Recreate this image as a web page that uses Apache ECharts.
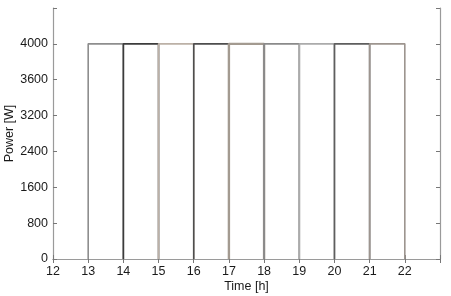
<!DOCTYPE html>
<html>
<head>
<meta charset="utf-8">
<script src="https://cdn.jsdelivr.net/npm/echarts@6/dist/echarts.min.js"></script>
<style>html,body{margin:0;padding:0;background:#fff;}#c{width:451px;height:296px;}</style>
</head>
<body>
<div id="c"></div>
<script>
// Data
var pulseStart = [13, 14, 15, 16, 17, 18, 19, 20, 21];
var pulseEnd   = [14, 15, 16, 17, 18, 19, 20, 21, 22];
var pulsePower = [4000, 4000, 4000, 4000, 4000, 4000, 4000, 4000, 4000];
var xTickLabels = ['12','13','14','15','16','17','18','19','20','21','22'];
var yTickLabels = ['0','800','1600','2400','3200','3600','4000'];
var pulseColors = ['#8e8e8e','#3c3c3c','#bcb1a7','#4e4e4e','#a39a90','#8a8a8a','#ababab','#5e5e5e','#9d958f'];
var pulseWidths = [1.6, 1.6, 1.6, 1.6, 2.4, 1.8, 1.6, 1.6, 1.6];

var yStep = 4000 / 6;
var series = pulseStart.map(function (s, i) {
  var e = pulseEnd[i], p = pulsePower[i];
  return {
    type: 'line', xAxisIndex: 0, yAxisIndex: 0,
    data: [[s, 0], [s, p], [e, p], [e, 0]],
    symbol: 'none', silent: true,
    lineStyle: { color: pulseColors[i], width: pulseWidths[i] }
  };
});

var chart = echarts.init(document.getElementById('c'), null, { renderer: 'canvas' });
var axisCommon = {
  axisLine: { show: true, lineStyle: { color: '#9a9a9a', width: 1.2 } },
  axisTick: { show: true, inside: true, length: 4, lineStyle: { color: '#777' } },
  splitLine: { show: false }
};
var txt = { fontFamily: 'Liberation Sans', fontSize: 12.5, color: '#1a1a1a' };
chart.setOption({
  animation: false,
  backgroundColor: '#fff',
  grid: { left: 53, right: 11, top: 8, bottom: 37, containLabel: false, outerBoundsMode: 'none' },
  xAxis: [
    Object.assign({
      type: 'value', position: 'bottom', min: 12, max: 23, interval: 1,
      name: 'Time [h]', nameLocation: 'middle', nameGap: 21, nameMoveOverlap: false,
      nameTextStyle: txt,
      axisLabel: Object.assign({ margin: 6,
        formatter: function (v) { var i = Math.round(v - 12); return xTickLabels[i] || ''; } }, txt)
    }, axisCommon),
    Object.assign({
      type: 'value', position: 'top', min: 12, max: 23, interval: 1,
      axisLabel: { show: false }
    }, axisCommon)
  ],
  yAxis: [
    Object.assign({
      type: 'value', position: 'left', min: 0, max: yStep * 7, interval: yStep,
      name: 'Power [W]', nameLocation: 'middle', nameGap: 37, nameRotate: 90, nameMoveOverlap: false,
      nameTextStyle: txt,
      axisLabel: Object.assign({ margin: 5,
        formatter: function (v) { var i = Math.round(v / yStep); return yTickLabels[i] || ''; } }, txt)
    }, axisCommon),
    Object.assign({
      type: 'value', position: 'right', min: 0, max: yStep * 7, interval: yStep,
      axisLabel: { show: false }
    }, axisCommon)
  ],
  series: series
});
</script>
</body>
</html>
